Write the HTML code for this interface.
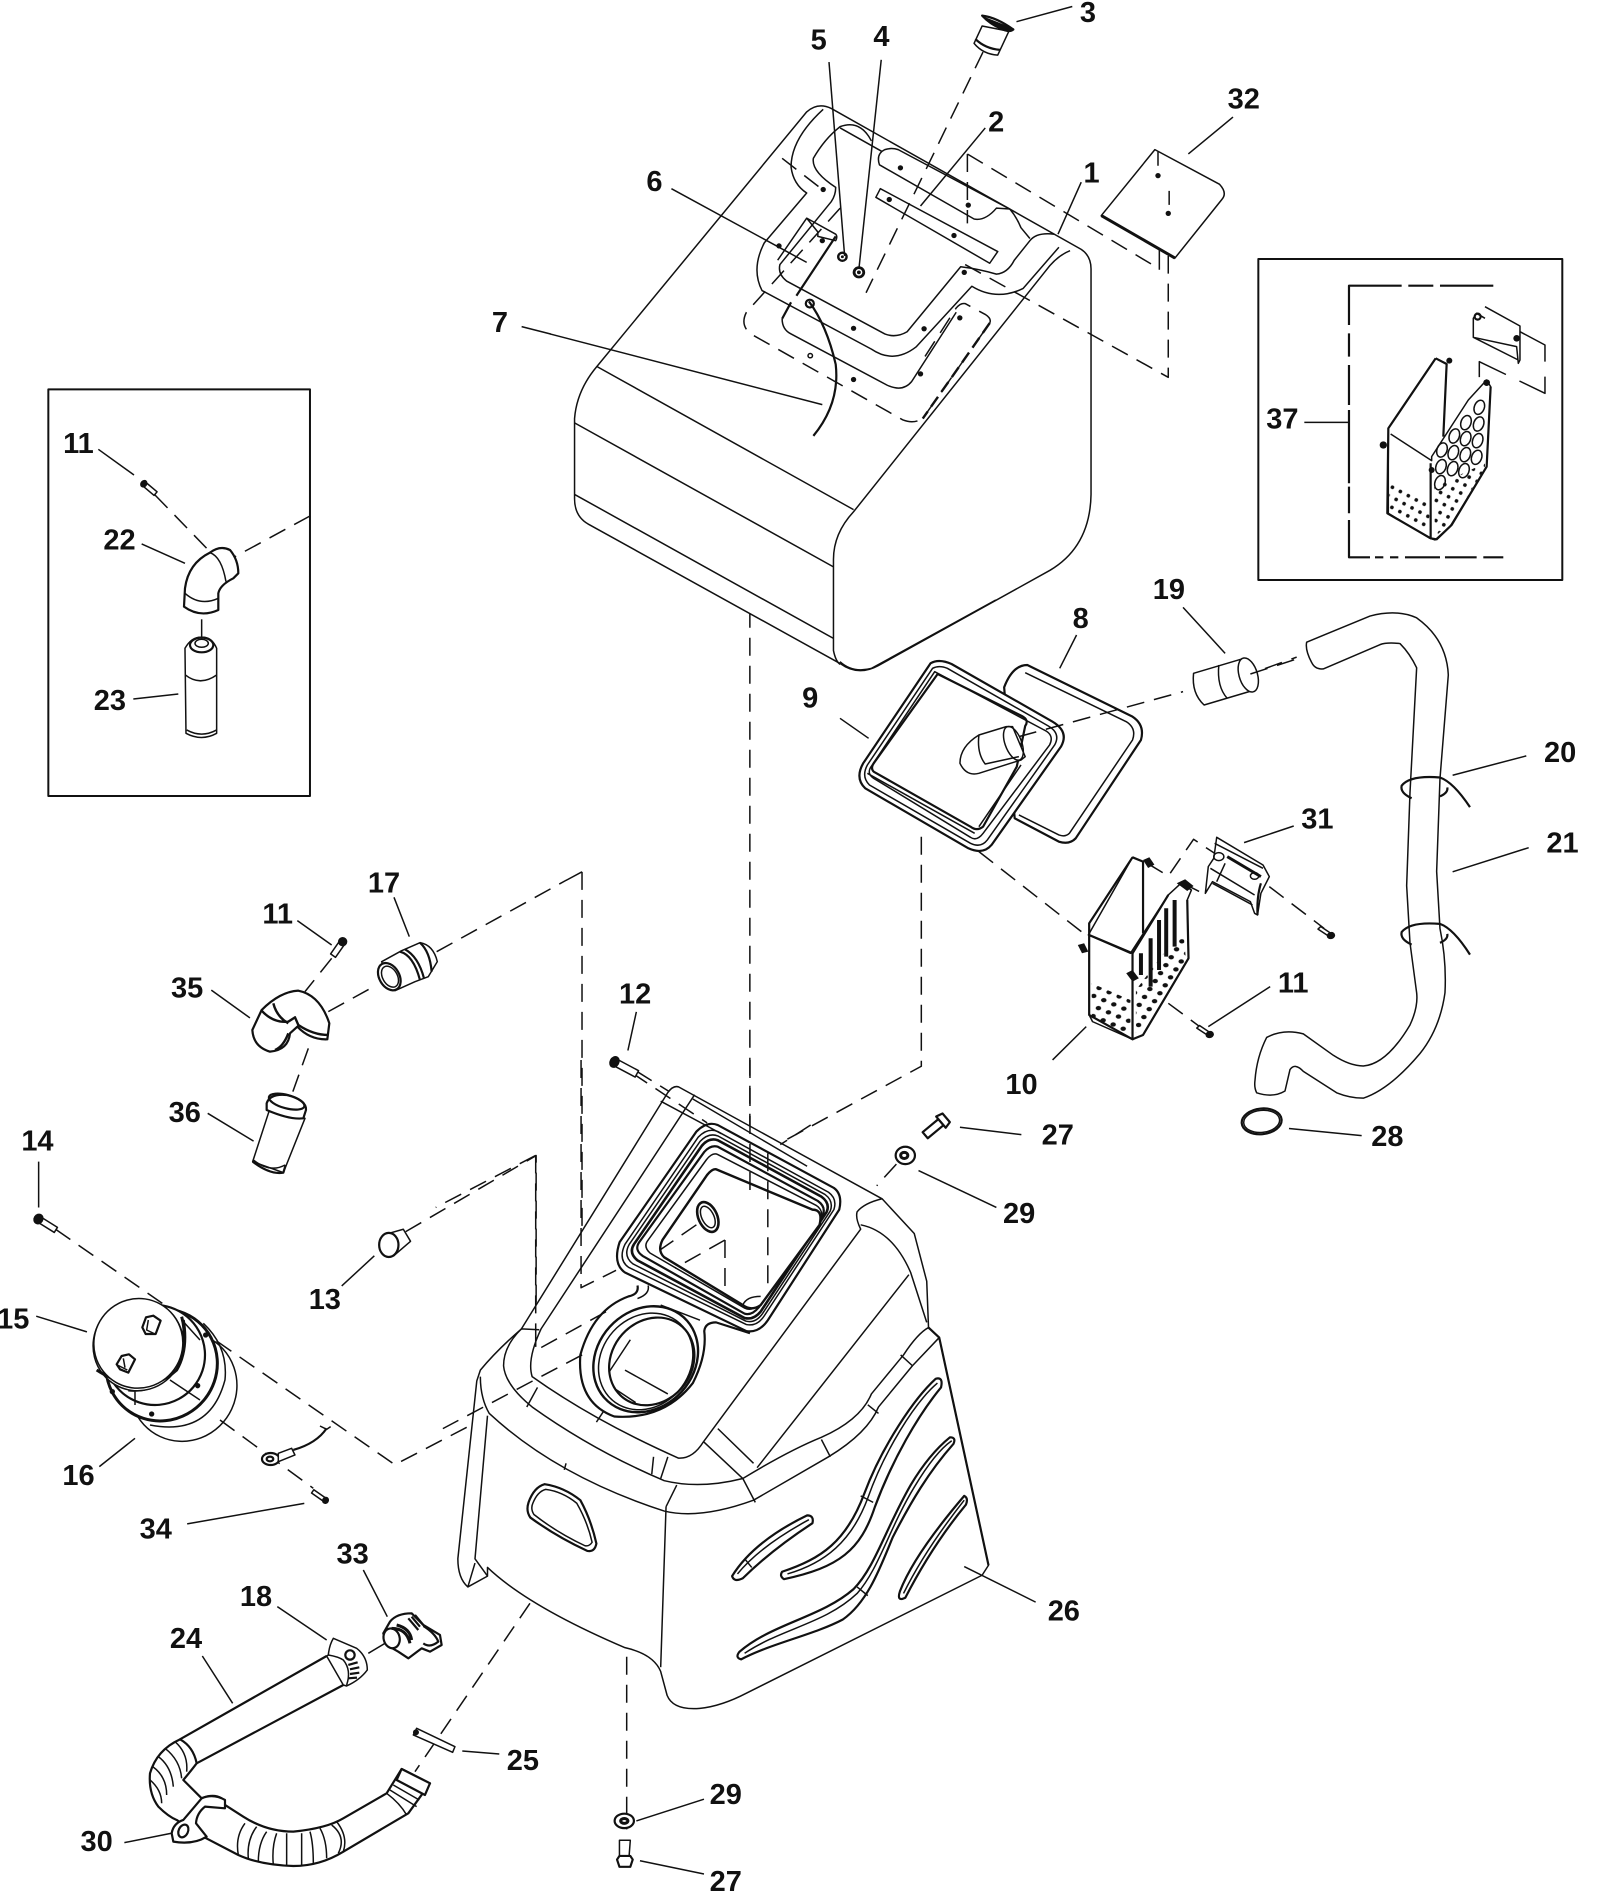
<!DOCTYPE html>
<html><head><meta charset="utf-8"><style>
html,body{margin:0;padding:0;background:#fff}
svg{display:block}
svg *{vector-effect:non-scaling-stroke}
g,path,line,ellipse,circle,rect,polyline{fill:none;stroke:#111;stroke-width:1.5;stroke-linejoin:round}
.w{fill:#fff}
.d{stroke-dasharray:18 10}
.t{stroke-width:3}
.m{stroke-width:2.2}
.f{fill:#111;stroke:none}
text{font:bold 24px "Liberation Sans",sans-serif;fill:#111;stroke:none;text-anchor:middle}
</style></head><body>
<svg xmlns="http://www.w3.org/2000/svg" width="1600" height="1892" viewBox="0 0 1600 1892">
<defs>
<pattern id="dots" patternUnits="userSpaceOnUse" width="27" height="27" patternTransform="rotate(28)"><circle cx="10" cy="10" r="6.5" style="fill:#111;stroke:none"/></pattern>
<pattern id="dots5" patternUnits="userSpaceOnUse" width="27" height="27" patternTransform="rotate(28)"><circle cx="10" cy="10" r="5.5" style="fill:#111;stroke:none"/></pattern>
</defs>

<!-- long dashed lines, display coordinates -->
<g transform="scale(1.2075)">
<path class="d" d="M621,505V1075"/>
<path class="d" d="M482,722L469,729"/>
<path class="d" d="M482,722V1030"/>
<path class="d" d="M336,1020L444,957V1118"/>
<path class="d" d="M46,1018L327,1213L400,1175"/>
<path class="d" d="M763,693V883L640,950"/>
<path class="d" d="M527,887L620,945"/>
<path class="d" d="M519,1372V1515"/>
<line x1="432" y1="270.5" x2="456" y2="276.6"/>
<line x1="30" y1="1090" x2="72" y2="1103"/>
<line x1="155" y1="1262" x2="252" y2="1245"/>
<line x1="175" y1="820" x2="207" y2="843"/>
<line x1="172" y1="922" x2="210" y2="945"/>
<line x1="103" y1="1526" x2="143" y2="1518"/>
<line x1="1203" y1="642" x2="1264" y2="626"/>
<line x1="1203" y1="722" x2="1266" y2="702"/>
</g>

<!-- TANK -->
<g transform="translate(550,0) scale(.4464,.4337)">
<path class="w" d="M575,258Q600,235 630,250L1190,575Q1212,590 1212,620V1140Q1210,1260 1120,1315L735,1535Q690,1560 650,1530L85,1208Q55,1190 55,1150V965Q60,900 105,845Z"/>
<path d="M1165,578Q1135,590 1110,625L680,1180Q635,1230 635,1290V1500Q640,1525 650,1532"/>
<path d="M105,845L680,1175M55,975L635,1307M55,1140L635,1472"/>
<path d="M612,252Q540,320 540,385Q545,425 575,445L480,560Q450,620 475,670L720,805Q770,840 820,800L945,660Q1000,695 1060,665L1140,570"/>
<path d="M720,325Q695,275 650,292Q615,320 590,365Q585,395 640,432Q640,450 630,465L515,610Q510,632 530,648L750,770Q775,780 800,765L920,615Q960,620 1000,632Q1025,630 1040,600L1075,555Q1090,535 1130,540"/>
<path d="M650,295L745,350M1030,482Q1045,500 1055,525L1075,550"/>
<path class="w" d="M750,345Q730,355 738,380L950,505Q975,510 1000,480L1030,482L780,345Q765,340 750,345Z"/>
<path class="w" d="M740,435L730,455L985,607L1003,580Z"/>
<path class="d" d="M970,120L708,675"/>
<path class="d" d="M520,365L610,437"/>
<path class="d" d="M935,355L1365,620M935,355V515M930,610L1385,870V590"/>
<path d="M1365,575V622"/>
<path class="d" d="M650,480L440,720Q425,750 450,770L790,968Q815,978 835,965L985,745Q990,735 975,725L930,700Q920,698 910,710L835,830"/>
<path d="M520,735Q520,760 540,770L755,888Q790,905 810,880L910,720"/>
<path class="d t" style="stroke-width:2.4;stroke-dasharray:12 6" d="M985,745L835,965"/>
<path d="M575,503L640,540Q645,545 640,555L600,545V535L575,503L510,600"/>
<path class="m" d="M640,545L552,682"/>
<path class="m" d="M540,697L520,735"/>
<path class="m" d="M580,695Q620,750 640,840Q650,930 590,1005"/>
<circle class="m" cx="582" cy="700" r="9"/>
<circle class="f" cx="655" cy="592" r="12"/><circle cx="655" cy="592" r="5" style="stroke:#fff"/>
<circle class="f" cx="692" cy="628" r="14"/><circle cx="692" cy="628" r="6" style="stroke:#fff"/>
<line x1="0" y1="770" x2="610" y2="933"/><line x1="272" y1="435" x2="575" y2="605"/>
<line x1="625" y1="143" x2="660" y2="590"/><line x1="742" y1="138" x2="692" y2="620"/>
<line x1="975" y1="295" x2="830" y2="475"/><line x1="1190" y1="420" x2="1138" y2="540"/>
<line x1="1170" y1="15" x2="1045" y2="50"/><line x1="1530" y1="270" x2="1430" y2="355"/>
<g><circle class="f" cx="612" cy="437" r="6"/><circle class="f" cx="513" cy="567" r="6"/><circle class="f" cx="610" cy="555" r="6"/><circle class="f" cx="785" cy="387" r="6"/><circle class="f" cx="937" cy="473" r="6"/><circle class="f" cx="760" cy="460" r="6"/><circle class="f" cx="905" cy="543" r="6"/><circle class="f" cx="928" cy="628" r="6"/><circle class="f" cx="680" cy="757" r="6"/><circle class="f" cx="838" cy="758" r="6"/><circle cx="583" cy="820" r="5"/><circle class="f" cx="680" cy="875" r="6"/><circle class="f" cx="830" cy="862" r="6"/><circle class="f" cx="918" cy="733" r="6"/></g>
<!-- plug 3 -->
<path class="w" d="M968,60L950,100Q970,125 1003,127L1028,72Z"/>
<path class="m" d="M953,90Q975,112 1008,115"/>
<path class="w m" d="M968,36Q1000,40 1038,68Q1030,76 1010,66Q985,55 968,36Z"/>
<path class="f" d="M966,36L1040,66L1030,72L990,58Z"/>
<!-- plate 32 -->
<path class="w" d="M1355,345L1500,425Q1518,445 1505,460L1400,595L1235,497Z"/>
<path class="t" d="M1235,497L1400,595"/>
<circle class="f" cx="1362" cy="405" r="6"/><circle class="f" cx="1385" cy="492" r="6"/>
<path class="d" style="stroke-dasharray:14 8" d="M1362,350V400M1387,440V490"/>
</g>

<!-- HOUSING -->
<g transform="translate(450,1060) scale(.3571,.4337)">
<path class="w" d="M75,740L22,1150Q22,1195 50,1215L105,1190L105,1170Q220,1260 490,1355Q570,1370 590,1410L608,1465Q625,1500 700,1495Q760,1490 830,1460L1490,1188L1508,1165L1370,640L1340,617L1335,510L1300,400L1210,320L640,62Q625,58 610,75L200,620Q130,670 85,715Z"/>
<path d="M685,80L255,620Q215,690 230,730Q400,830 640,918Q680,920 710,880L1150,390Q1135,365 1140,350Q1160,330 1210,320"/>
<path d="M1150,380Q1240,395 1290,490L1335,605"/>
<path d="M200,620L250,622M200,620Q150,660 150,705Q155,750 230,800Q400,900 600,970Q700,990 820,965Q950,900 1040,870Q1150,830 1180,770L1270,680Q1310,630 1340,617"/>
<path d="M85,730Q85,780 110,815Q300,960 600,1040Q700,1060 850,1015L1060,915Q1170,860 1200,800L1295,705L1370,640"/>
<path d="M1285,495L860,940M605,1030L590,1400M105,820L70,1150L105,1190M70,1160L50,1215"/>
<path d="M750,850L850,930M710,880L820,965L855,1020"/>
<path d="M570,915L565,955M610,915L590,965M635,980L605,1030M245,755L215,800M325,930L320,945M1040,875L1065,915M1170,795L1200,815M1262,680L1295,705"/>
<path d="M590,95L760,170M680,90L1000,245M410,835L430,810"/>
<!-- window rings -->
<path class="m" d="M750,150L1075,295Q1100,310 1090,345L890,600Q865,630 830,625L490,490Q455,470 475,420L690,165Q720,140 750,150Z"/>
<path d="M750,165L1060,305Q1085,320 1075,345L880,590Q860,615 830,610L500,478Q470,460 490,425L695,178Q722,155 750,165Z"/>
<path d="M750,175L1050,310Q1075,325 1065,348L875,585Q855,608 828,602L512,470Q484,452 502,425L700,188Q724,167 750,175Z"/>
<path class="t" style="stroke-width:2.6" d="M750,185L1040,315Q1065,330 1055,350L870,580Q850,600 825,595L525,462Q500,445 515,425L705,198Q725,178 750,185Z"/>
<path class="m" d="M750,200L1030,325Q1052,338 1045,355L865,570Q845,590 825,585L540,452Q515,438 530,420L712,212Q730,195 750,200Z"/>
<path d="M750,218L1025,335Q1045,345 1040,365L860,565Q845,580 825,572L560,445Q540,430 555,415L718,230Q735,212 750,218Z"/>
<path class="w t" style="stroke-width:2.4" d="M745,252L1015,345Q1045,345 1035,380L870,565Q845,580 820,565L600,455Q580,440 595,415L720,265Q735,250 745,252Z"/>
<path d="M820,565Q830,545 870,545"/>
<ellipse class="t" style="stroke-width:2.6" cx="722" cy="362" rx="25" ry="38" transform="rotate(-35 722 362)"/>
<ellipse cx="722" cy="362" rx="16" ry="28" transform="rotate(-35 722 362)"/>
<path class="d" d="M690,380L590,437M770,415V530M890,215V530M840,0V310"/>
<path class="d" d="M770,415L630,480M367,0V525L465,485M240,620V670L460,570M240,220V620M370,680L220,745L-20,850M1010,150L925,195"/>
<!-- round opening -->
<path class="m" d="M525,520Q530,540 500,545Q400,575 365,680Q355,790 460,822Q600,830 680,745Q720,680 712,625Q715,605 745,605L840,630"/>
<path d="M555,520Q560,540 525,550M590,565L700,600"/>
<ellipse class="t" style="stroke-width:2.4" cx="548" cy="690" rx="150" ry="118" transform="rotate(-20 548 690)"/>
<ellipse cx="548" cy="695" rx="135" ry="108" transform="rotate(-20 548 695)"/>
<ellipse class="m" cx="565" cy="695" rx="122" ry="98" transform="rotate(-20 565 695)"/>
<path d="M445,720L505,645M490,715L610,770M465,760L520,790"/>
<!-- flames -->
<path class="m" d="M790,1190Q850,1110 1000,1050Q1020,1050 1015,1068Q900,1130 820,1195Q795,1205 790,1190Z"/>
<path d="M805,1185Q870,1120 1005,1060M825,1150L845,1170"/>
<path class="m" d="M930,1180C1040,1150 1110,1110 1160,1000C1210,890 1300,780 1360,735Q1382,730 1375,755C1310,820 1240,920 1190,1030C1150,1130 1090,1170 935,1197Q922,1190 930,1180Z"/>
<path d="M945,1185C1050,1160 1125,1110 1170,1010C1215,905 1300,790 1365,745M1150,1005L1185,1020"/>
<path class="m" d="M810,1365C900,1300 1040,1285 1130,1220C1190,1170 1220,1080 1290,980C1330,925 1370,890 1400,870Q1418,870 1410,885C1340,950 1290,1020 1240,1100C1205,1170 1170,1250 1100,1290C1020,1325 900,1345 815,1382Q798,1378 810,1365Z"/>
<path d="M825,1368C930,1310 1050,1300 1140,1230C1200,1175 1230,1080 1300,985C1340,930 1375,895 1405,878M1140,1215L1170,1235"/>
<path class="m" d="M1260,1225Q1300,1140 1440,1005Q1452,1010 1445,1025Q1350,1120 1275,1240Q1250,1250 1260,1225Z"/>
<path d="M1270,1230Q1330,1130 1440,1015"/>
<path class="m" d="M220,1020Q235,985 265,978Q320,985 365,1015Q395,1060 410,1115Q405,1135 385,1132Q300,1100 225,1055Q212,1040 220,1020Z"/>
<path d="M232,1022Q245,995 268,990Q315,995 355,1022Q385,1065 398,1112Q390,1122 378,1120Q300,1090 235,1048Q225,1035 232,1022Z"/>
<path d="M1340,617L1370,640L1508,1165" class="m"/>
<!-- bolts -->
<path class="d" d="M1250,240L1195,290"/>
<path class="d" d="M510,30L720,145M240,220L-40,340"/>
<g transform="translate(1365,150) scale(1.6,1.3) rotate(-40)"><path class="w m" d="M-28,-7H8V7H-28Z"/><path class="w m" d="M8,-13L20,-10V10L8,13Z"/></g>
<ellipse class="w m" cx="1275" cy="220" rx="27" ry="20"/><ellipse cx="1272" cy="220" rx="10" ry="7" class="t"/>
<line x1="1428" y1="155" x2="1600" y2="172"/><line x1="1312" y1="255" x2="1530" y2="340"/>
<line x1="1440" y1="1168" x2="1640" y2="1250"/>
</g>

<!-- FILTER AREA -->
<g transform="translate(840,600) scale(.4209,.3333)">
<path d="M0,185Q30,220 75,205L370,0"/>
<path class="w m" d="M445,195L695,350Q725,375 715,420L560,715Q545,735 520,725L415,655L390,262Q410,195 445,195Z"/>
<path d="M440,218L680,365Q705,385 695,420L545,700Q535,712 520,705L425,645"/>
<path class="w m" d="M215,190Q235,175 265,192L505,365Q545,395 525,440L360,735Q340,765 305,745L60,565Q35,535 55,490Z"/>
<path d="M220,205Q235,195 255,205L495,378Q525,400 510,435L350,720Q335,745 310,730L70,555Q50,530 65,495Z"/>
<path d="M225,215L485,390Q510,405 498,435L340,700Q325,725 310,712L80,535Q62,520 75,498Z"/>
<path class="m" d="M232,222L432,348Q450,360 440,378L420,500L340,680Q325,695 310,680L80,515Q72,505 80,490Z"/>
<path d="M65,520L320,700M430,495L330,680"/>
<path class="w" d="M395,380L330,405Q285,440 285,490Q300,530 330,520L430,480L440,470L410,380Z"/>
<path d="M330,405Q325,460 345,492L425,470"/>
<ellipse cx="412" cy="430" rx="20" ry="52" transform="rotate(-15 412 430)"/>
<path class="w" d="M840,220L960,175L985,270L865,315Q835,280 840,220Z"/>
<path d="M900,195Q895,260 920,295"/>
<ellipse class="w" cx="970" cy="225" rx="22" ry="52" transform="rotate(-12 970 225)"/>
<path class="d" d="M425,410L815,275M975,222L1090,175"/>
<line x1="815" y1="22" x2="915" y2="160"/><line x1="562" y1="105" x2="522" y2="205"/><line x1="0" y1="355" x2="68" y2="415"/>
<line x1="960" y1="728" x2="1078" y2="678"/><line x1="1022" y1="1160" x2="875" y2="1280"/><line x1="585" y1="1280" x2="505" y2="1380"/>
<path class="d" d="M330,755L690,1110"/>
<path class="d" d="M780,1210L860,1285"/>
<path class="d" d="M730,790L780,828L840,718L890,760"/>
<path class="d" d="M1020,860L1150,985"/>
<path class="d" d="M815,850L870,885"/>
<!-- 31 -->
<path class="w" d="M895,712L1005,795L1020,830L1000,880L992,945L985,940L975,905L885,845L868,880L875,800L888,775Z"/>
<path d="M890,730L1005,805M880,805L985,885M885,850L980,915"/>
<path class="t" d="M920,770L1000,830"/>
<circle cx="900" cy="770" r="12"/><circle cx="985" cy="828" r="10"/>
<path d="M915,790L895,845"/>
<path class="m" d="M1000,850Q990,890 992,945"/>
<!-- basket 10 -->
<path class="w" d="M695,772L592,970V1245L600,1265L695,1318L720,1305L828,1075L825,900L835,870L810,850L780,885L690,1060L590,1005Z"/>
<path class="m" d="M695,772L592,970V1245L695,1318V1060L592,1005M695,772L720,785V1000"/>
<path class="m" d="M695,1318L720,1305L828,1075L825,900M695,1060L780,885"/>
<path style="fill:url(#dots);stroke:none" d="M598,1150L690,1200V1305L598,1255Z"/>
<path style="fill:url(#dots);stroke:none" d="M703,1170L815,985L822,1080L715,1305L703,1300Z"/>
<path class="t" style="stroke-width:4" d="M715,1125V1060M738,1160V1015M758,1110V960M775,1070V925M795,1040V900"/>
<path class="f" d="M800,850l20,-12l20,20l-15,15z"/><path class="f" d="M720,780l15,-8l12,22l-15,10z"/>
<path class="f" d="M565,1035l15,-5l10,25l-15,5z"/><path class="f" d="M680,1120l15,-10l15,25l-15,10z"/>
<!-- screws -->
<g transform="translate(1168,1008) rotate(40)"><path class="w" d="M-38,-5H-8V5H-38Z"/><ellipse class="m" style="fill:#111" cx="-2" cy="0" rx="7" ry="8"/></g>
<g transform="translate(880,1305) rotate(40)"><path class="w" d="M-38,-5H-8V5H-38Z"/><ellipse class="m" style="fill:#111" cx="-2" cy="0" rx="7" ry="8"/></g>
</g>

<!-- HOSE -->
<g transform="translate(1240,600) scale(.3333,.3571)">
<path d="M200,118L390,45Q470,25 530,50Q620,110 625,210L600,500L590,760L600,920Q620,1010 615,1100Q600,1200 540,1270Q450,1370 370,1395Q330,1395 290,1380L190,1320Q165,1295 150,1315L135,1375Q100,1395 50,1380Q42,1365 45,1345Q50,1280 80,1225Q130,1200 190,1215L280,1275Q330,1305 370,1305Q440,1300 510,1190Q535,1140 530,1100L510,960L500,800L510,540L530,190Q510,150 480,122Q440,118 420,125L250,193Q225,195 215,175Q195,140 200,118Z"/>
<path class="m" d="M515,555Q480,540 485,520Q510,490 600,497Q640,510 690,580M600,550Q625,540 622,525"/>
<path class="m" d="M515,965Q480,950 485,930Q510,900 600,907Q640,920 690,993M600,960Q625,950 622,935"/>
<ellipse class="m" cx="65" cy="1460" rx="60" ry="36" transform="rotate(-5 65 1460)"/>
<ellipse cx="65" cy="1460" rx="54" ry="31" transform="rotate(-5 65 1460)"/>
<line x1="147" y1="1480" x2="365" y2="1500"/>
<path class="d" d="M75,192L170,160"/>
</g>

<!-- INSET 37 -->
<g transform="translate(1260,250) scale(.3333)">
<path style="stroke-width:2" d="M-5,27H907V990H-5Z"/>
<path class="m" d="M700,107H540M520,107H445M425,107H267V225M267,250V320M267,345V465M267,480V700M267,710V790M267,810V922H330M345,922H370M390,922H415M435,922H540M555,922H650M670,922H730"/>
<line x1="133" y1="517" x2="267" y2="517"/>
<path d="M675,170L780,228V330L775,340L770,290L640,262L640,205L650,190L675,205M640,262L775,330"/>
<circle class="m" cx="653" cy="200" r="9"/><circle class="f" cx="770" cy="265" r="10"/>
<path class="d" style="stroke-dasharray:45 15" d="M780,245L855,285V430L658,335V385"/>
<path class="w" d="M527,325L385,535V790L510,865L525,870L570,830L680,650L692,410L680,390L625,450L515,620V632L392,552"/>
<path class="m" d="M527,325L385,535L382,790L512,865V640M527,325L560,342L550,560"/>
<path class="m" d="M512,865L530,868L575,825L680,650L692,410"/>
<path style="fill:url(#dots5);stroke:none" d="M388,700L508,760V855L388,790Z"/>
<path style="fill:url(#dots5);stroke:none" d="M522,710L675,640L675,655L570,820L525,860Z"/>
<g class="m"><ellipse cx="658" cy="472" rx="15" ry="22" transform="rotate(20 658 472)"/><ellipse cx="656" cy="522" rx="15" ry="22" transform="rotate(20 656 522)"/><ellipse cx="618" cy="518" rx="15" ry="22" transform="rotate(20 618 518)"/><ellipse cx="653" cy="572" rx="15" ry="22" transform="rotate(20 653 572)"/><ellipse cx="617" cy="566" rx="15" ry="22" transform="rotate(20 617 566)"/><ellipse cx="583" cy="558" rx="15" ry="22" transform="rotate(20 583 558)"/><ellipse cx="650" cy="622" rx="15" ry="22" transform="rotate(20 650 622)"/><ellipse cx="616" cy="614" rx="15" ry="22" transform="rotate(20 616 614)"/><ellipse cx="580" cy="608" rx="15" ry="22" transform="rotate(20 580 608)"/><ellipse cx="546" cy="600" rx="15" ry="22" transform="rotate(20 546 600)"/><ellipse cx="612" cy="662" rx="15" ry="22" transform="rotate(20 612 662)"/><ellipse cx="578" cy="656" rx="15" ry="22" transform="rotate(20 578 656)"/><ellipse cx="543" cy="650" rx="15" ry="22" transform="rotate(20 543 650)"/><ellipse cx="540" cy="698" rx="15" ry="22" transform="rotate(20 540 698)"/></g>
<circle class="f" cx="568" cy="332" r="9"/><circle class="f" cx="680" cy="398" r="10"/><circle class="f" cx="370" cy="585" r="11"/><circle class="f" cx="515" cy="660" r="9"/>
</g>

<!-- INSET left -->
<g transform="translate(40,380) scale(.3333)">
<path style="stroke-width:2" d="M25,28H810V1248H25Z"/>
<line x1="175" y1="208" x2="282" y2="285"/>
<line x1="305" y1="492" x2="435" y2="550"/>
<line x1="280" y1="957" x2="415" y2="942"/>
<path class="d" d="M345,345L510,515M810,408L585,530"/>
<g transform="translate(310,310) rotate(40)"><path class="w" d="M8,-7H48V7H8Z"/><ellipse style="fill:#111" cx="2" cy="0" rx="8" ry="10"/></g>
<path class="w m" d="M435,625Q445,550 510,518Q540,495 570,510Q595,540 595,580L580,595Q540,615 535,640V690Q480,715 432,680Z"/>
<path d="M510,518Q545,530 558,605M435,640Q480,680 535,655"/>
<path class="d" style="stroke-dasharray:22 16" d="M485,718V800"/>
<path class="w" d="M435,805Q455,770 485,772Q515,770 530,805V1060Q485,1085 438,1060Z"/>
<ellipse class="m" cx="485" cy="795" rx="35" ry="22"/><ellipse cx="485" cy="790" rx="20" ry="12"/>
<path d="M436,885Q480,920 530,885M440,1050Q485,1075 530,1050"/>
</g>

<!-- 35 / 17 / 36 -->
<g transform="translate(220,880) scale(.3333)">
<line x1="232" y1="122" x2="335" y2="195"/><line x1="522" y1="52" x2="568" y2="170"/>
<path class="d" d="M335,235L255,335M325,395L470,315M650,215L1040,0M265,505L215,645"/>
<g transform="translate(365,190) rotate(-55)"><path class="w" d="M-45,-9H0V9H-45Z"/></g><circle class="f" cx="368" cy="185" r="14"/>
<path class="w m" d="M125,390Q180,335 235,332Q300,345 328,430L322,478Q270,480 232,440L210,460Q205,510 150,515Q100,500 97,450Z"/>
<path class="t" style="stroke-width:2.4" d="M125,392Q160,430 205,425L225,412L235,435Q280,465 325,465M160,370Q170,410 205,430M205,460Q190,500 165,510"/>
<path class="w" d="M485,245L545,212L600,188Q640,195 652,245L625,290L585,305L525,332Z"/>
<path class="m" d="M540,215Q580,225 600,300M555,208Q595,230 612,295M600,188Q630,215 635,275"/>
<ellipse class="w m" cx="508" cy="290" rx="30" ry="44" transform="rotate(-30 508 290)"/>
<ellipse cx="510" cy="290" rx="22" ry="34" transform="rotate(-30 510 290)"/>
<path class="w" d="M150,685L98,845L190,878L255,715Z"/>
<path class="w m" d="M140,670Q150,640 200,645Q260,660 258,690L250,715Q210,720 140,690Z"/>
<ellipse class="m" cx="200" cy="665" rx="55" ry="20" transform="rotate(15 200 665)"/>
<path d="M100,840Q150,880 195,855"/>
<path class="m" d="M98,845Q150,885 190,878L197,855"/>
</g>

<!-- 15 / 16 -->
<g transform="translate(60,1280) scale(.3333)">
<line x1="118" y1="560" x2="225" y2="475"/>
<ellipse class="w" cx="370" cy="320" rx="160" ry="165" transform="rotate(25 370 320)"/>
<path d="M270,435Q450,470 495,300Q505,200 430,130"/>
<ellipse class="w t" cx="305" cy="255" rx="165" ry="170" transform="rotate(40 305 255)"/>
<ellipse class="w m" cx="285" cy="225" rx="150" ry="150" transform="rotate(40 285 225)"/>
<path class="t" d="M205,330Q300,340 350,250Q385,180 365,110"/>
<path d="M330,300L420,360M225,335V375M370,125L420,180"/>
<ellipse class="w" cx="235" cy="195" rx="135" ry="138" transform="rotate(30 235 195)"/>
<path class="t" d="M110,270Q250,360 350,270Q385,210 370,120"/>
<ellipse class="w" cx="235" cy="190" rx="133" ry="135" transform="rotate(30 235 190)"/>
<path class="w m" d="M258,112l22,-5l22,15l-15,40l-30,0l-10,-20Z"/><path d="M265,120l-5,30l25,12"/>
<path class="w m" d="M185,228l22,-5l18,15l-20,40l-25,-10l-10,-15Z"/><path d="M190,235l5,28M172,255l30,15"/>
<circle class="f" cx="437" cy="165" r="8"/><circle class="f" cx="413" cy="317" r="8"/><circle class="f" cx="275" cy="402" r="8"/><circle class="f" cx="157" cy="335" r="8"/>
<path class="d" d="M480,420L760,625"/>
<ellipse class="w m" cx="632" cy="537" rx="26" ry="18"/><ellipse cx="630" cy="537" rx="10" ry="7" class="m"/>
<path class="w" d="M655,520L695,505L705,525L655,545Z"/>
<path class="m" d="M700,510Q770,490 800,445"/>
<path d="M780,438L800,448L812,440"/>
<g transform="translate(795,660) rotate(35)"><path class="w" d="M-45,-6H-5V6H-45Z"/><ellipse style="fill:#111" cx="2" cy="0" rx="8" ry="9"/></g>
</g>

<!-- HOSE 24 -->
<g transform="translate(130,1550) scale(.3333)">
<line x1="442" y1="170" x2="590" y2="270"/><line x1="217" y1="318" x2="308" y2="460"/><line x1="700" y1="60" x2="772" y2="200"/>
<line x1="997" y1="603" x2="1108" y2="612"/>
<line x1="715" y1="310" x2="765" y2="280"/>
<path class="m" d="M150,568L590,318M200,640L640,405"/>
<path class="w m" d="M150,568Q80,600 60,670Q55,730 85,770Q115,800 140,810L200,850L325,915Q390,945 490,948Q570,948 640,905L835,790L900,700L815,657L770,730L640,805Q590,835 490,845Q410,845 340,800L285,765L275,745Q250,730 215,745L160,690Q185,660 200,640Q190,590 150,568Z"/>
<path d="M135,575Q175,610 170,665M105,595Q150,630 155,685M85,620Q125,650 130,710M68,650Q110,680 110,735M60,690Q95,720 95,760"/>
<path d="M325,915Q315,860 345,820M355,925Q350,870 380,830M385,935Q385,880 410,845M430,945Q425,890 440,850M470,948V850M515,945V850M550,940Q550,880 540,845M590,925Q590,870 570,835M625,910Q650,860 605,825M640,905Q655,860 620,815"/>
<path d="M770,730Q810,760 830,795M780,720L860,770M790,705L868,750"/>
<path class="w m" d="M815,657L900,700L885,735L800,690Z"/>
<path class="w m" d="M125,850Q130,820 160,810L215,745Q250,730 285,750V775L225,770Q200,790 198,820L230,860Q190,885 130,875Z"/>
<ellipse class="m" cx="160" cy="843" rx="14" ry="20" transform="rotate(25 160 843)"/>
<!-- clamp 18 -->
<path class="w" d="M590,318L640,405L650,408Q690,390 712,360Q712,320 680,295L610,265Q598,285 595,315Z"/>
<path d="M595,315Q625,320 640,330Q665,360 650,405"/>
<path class="m" d="M655,345l28,-8M660,358l28,-6M660,372l28,-4M655,385l26,-2"/>
<circle class="m" cx="660" cy="315" r="14"/>
<!-- 33 -->
<path class="w m" d="M780,215Q800,190 845,190L880,225L930,255L935,285L900,305L875,295L835,325L805,305L770,285L760,250Z"/>
<path class="m" d="M845,200l25,30M835,205l30,35M855,195l25,30M880,228Q915,250 925,275Q900,295 880,280"/>
<ellipse class="w m" cx="785" cy="265" rx="24" ry="30" transform="rotate(-15 785 265)"/>
<path class="t" d="M785,235Q830,235 840,280M800,225Q840,235 845,270"/>
<path class="d" d="M1200,160L855,665"/>
<path class="w" d="M860,535L975,590L968,607L850,555Z"/><circle class="f" cx="858" cy="547" r="9"/>
</g>

<!-- small fasteners -->
<g transform="scale(1.2075)">
<line x1="527" y1="1508" x2="583" y2="1490"/><line x1="530" y1="1541" x2="583" y2="1552"/>
<ellipse class="w m" cx="517" cy="1508" rx="8" ry="6"/><ellipse class="t" cx="517" cy="1508" rx="3" ry="2"/>
<path class="w" d="M513,1524H522L521,1537H513Z"/>
<path class="w m" d="M511,1540L513,1537H522L524,1540L522,1546H513Z"/>
<!-- 13 plug -->
<path class="w" d="M320,1022L334,1018L340,1028L326,1040Z"/>
<ellipse class="w m" cx="322" cy="1031" rx="8" ry="10"/>
<line x1="283" y1="1065" x2="310" y2="1040"/>
<!-- 14 bolt -->
<g transform="translate(31,1009) rotate(32)"><path class="w" d="M3,-2.5H18V2.5H3Z"/><ellipse style="fill:#111" cx="1" cy="0" rx="3.5" ry="4"/></g>
<line x1="32" y1="962" x2="32" y2="1000"/>
<!-- 12 bolt -->
<g transform="translate(508,879) rotate(28)"><path class="w" d="M3,-3H22V3H3Z"/><ellipse style="fill:#111" cx="1" cy="0" rx="3.5" ry="4.5"/></g>
<line x1="527" y1="838" x2="520" y2="870"/>
</g>

<!-- Labels -->
<g transform="scale(1.2075)">
<text x="901" y="18">3</text><text x="678" y="41">5</text><text x="730" y="38">4</text><text x="825" y="109">2</text>
<text x="1030" y="90">32</text><text x="904" y="151">1</text><text x="542" y="158">6</text><text x="414" y="275">7</text>
<text x="968" y="496">19</text><text x="895" y="520">8</text><text x="671" y="586">9</text><text x="1292" y="631">20</text>
<text x="1294" y="706">21</text><text x="1091" y="686">31</text><text x="1062" y="355">37</text><text x="65" y="375">11</text>
<text x="99" y="455">22</text><text x="91" y="588">23</text><text x="318" y="739">17</text><text x="230" y="765">11</text>
<text x="155" y="826">35</text><text x="153" y="929">36</text><text x="526" y="831">12</text><text x="1071" y="822">11</text>
<text x="846" y="906">10</text><text x="876" y="948">27</text><text x="1149" y="949">28</text><text x="844" y="1013">29</text>
<text x="31" y="953">14</text><text x="269" y="1084">13</text><text x="11" y="1100">15</text><text x="65" y="1230">16</text>
<text x="129" y="1274">34</text><text x="292" y="1295">33</text><text x="212" y="1330">18</text><text x="154" y="1365">24</text>
<text x="881" y="1342">26</text><text x="433" y="1466">25</text><text x="601" y="1494">29</text><text x="80" y="1533">30</text>
<text x="601" y="1566">27</text>
</g>
</svg>
</body></html>
